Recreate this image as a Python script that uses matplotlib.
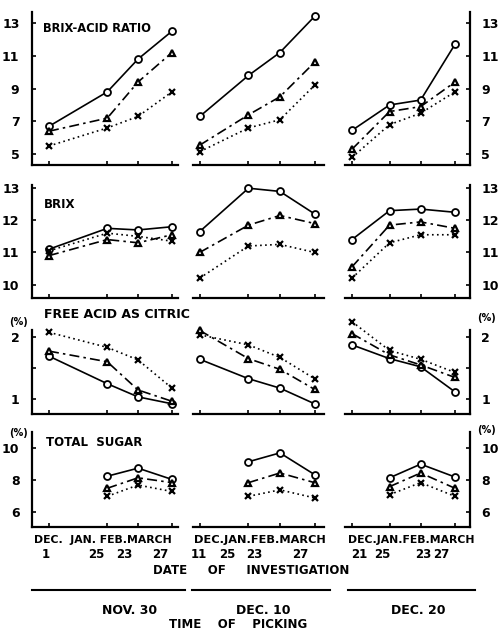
import numpy as np
import matplotlib
matplotlib.use("Agg")
import matplotlib.pyplot as plt
from matplotlib.lines import Line2D

# ---------------- data ----------------
picking_times = ["NOV. 30", "DEC. 10", "DEC. 20"]
# investigation dates, counted in days from Dec. 1
investigation_days = [[0, 55, 84, 116], [10, 55, 84, 116], [20, 55, 84, 116]]
month_labels = ["DEC.  JAN. FEB.MARCH", "DEC.JAN.FEB.MARCH", "DEC.JAN.FEB.MARCH"]
day_labels = [["1", "25", "23", "27"], ["11", "25", "23", "27"], ["21", "25", "23", "27"]]

ratio_o = [[6.7, 8.8, 10.8, 12.5], [7.3, 9.8, 11.2, 13.4], [6.45, 8.0, 8.3, 11.7]]
ratio_t = [[6.4, 7.2, 9.4, 11.2], [5.55, 7.4, 8.5, 10.6], [5.3, 7.6, 7.9, 9.4]]
ratio_x = [[5.5, 6.6, 7.3, 8.8], [5.15, 6.6, 7.1, 9.2], [4.8, 6.8, 7.5, 8.8]]

brix_o = [[11.1, 11.75, 11.7, 11.8], [11.65, 13.0, 12.9, 12.2], [11.4, 12.3, 12.35, 12.25]]
brix_t = [[10.9, 11.4, 11.3, 11.55], [11.0, 11.85, 12.15, 11.9], [10.55, 11.85, 11.95, 11.75]]
brix_x = [[11.05, 11.6, 11.5, 11.35], [10.2, 11.2, 11.25, 11.0], [10.2, 11.3, 11.55, 11.55]]

acid_o = [[1.69, 1.25, 1.04, 0.93], [1.64, 1.33, 1.18, 0.93], [1.87, 1.65, 1.52, 1.12]]
acid_t = [[1.77, 1.6, 1.15, 0.97], [2.1, 1.65, 1.48, 1.16], [2.05, 1.71, 1.55, 1.35]]
acid_x = [[2.07, 1.83, 1.63, 1.18], [2.03, 1.87, 1.67, 1.33], [2.24, 1.78, 1.64, 1.43]]

sugar_o = [[np.nan, 8.25, 8.75, 8.05], [np.nan, 9.15, 9.7, 8.35], [np.nan, 8.15, 9.0, 8.2]]
sugar_t = [[np.nan, 7.5, 8.15, 7.85], [np.nan, 7.85, 8.45, 7.85], [np.nan, 7.6, 8.45, 7.5]]
sugar_x = [[np.nan, 7.0, 7.7, 7.3], [np.nan, 7.0, 7.4, 6.9], [np.nan, 7.1, 7.85, 7.0]]

row_titles = ["BRIX-ACID RATIO", "BRIX", "FREE ACID AS CITRIC", "TOTAL  SUGAR"]
row_series = [(ratio_o, ratio_t, ratio_x), (brix_o, brix_t, brix_x),
              (acid_o, acid_t, acid_x), (sugar_o, sugar_t, sugar_x)]
row_yticks = [[5, 7, 9, 11, 13], [10, 11, 12, 13], [1, 2], [6, 8, 10]]
row_yticklabels = [["5", "7", "9", "11", "13"], ["10", "11", "12", "13"], ["1", "2"], ["6", "8", "10"]]

# ---------------- layout ----------------
W, H = 499, 636
fig = plt.figure(figsize=(W / 100, H / 100), dpi=100)
fig.patch.set_facecolor("white")

FONT = ["DejaVu Sans"]
plt.rcParams["font.family"] = ["DejaVu Sans"]


def fx(px):
    return px / W


def fy(py):
    return 1 - py / H


def box(x0, x1, y0, y1):
    return [fx(x0), fy(y1), (x1 - x0) / W, (y1 - y0) / H]


col_px = [(32, 178), (193, 324), (345, 470)]
col_xlim = [(-16, 121.7), (3.8, 124.7), (13.5, 130)]
row_px = [(12, 165), (185, 298), (330, 414), (432, 527)]
row_ylim = [(4.34, 13.67), (9.58, 13.1), (0.767, 2.107), (5.09, 11.0)]
row_minor = [[], [], [1.5], []]

styles = [dict(ls="-", marker="o", ms=5, mfc="white", mec="black", mew=1.3),
          dict(ls=(0, (6, 2.5, 1.5, 2.5)), marker="^", ms=4.8, mfc="white", mec="black", mew=1.6),
          dict(ls=(0, (1, 2)), marker="x", ms=5, mec="black", mew=1.6)]

tick_kw = dict(fontsize=9, fontweight="bold")

for r in range(4):
    for c in range(3):
        ax = fig.add_axes(box(col_px[c][0], col_px[c][1], row_px[r][0], row_px[r][1]))
        ax.set_facecolor("none")
        xs = investigation_days[c]
        for s, st in zip(row_series[r], styles):
            ax.plot(xs, s[c], color="black", lw=1.2, clip_on=False, **st)
        ax.set_xlim(*col_xlim[c])
        ax.set_ylim(*row_ylim[r])
        for side in ["top", "left", "right", "bottom"]:
            ax.spines[side].set_visible(False)
        ax.spines["bottom"].set_visible(True)
        ax.spines["bottom"].set_linewidth(1.6)
        ax.set_xticks(xs)
        ax.tick_params(axis="x", direction="in", length=3, width=1.2, labelbottom=False)
        if c == 0:
            ax.spines["left"].set_visible(True)
            ax.spines["left"].set_linewidth(1.6)
            ax.set_yticks(row_yticks[r])
            ax.set_yticklabels(row_yticklabels[r], **tick_kw)
            ax.set_yticks(row_minor[r], minor=True)
            ax.tick_params(axis="y", which="both", direction="in", length=3, width=1.2, pad=9)
        elif c == 2:
            ax.spines["right"].set_visible(True)
            ax.spines["right"].set_linewidth(1.6)
            ax.yaxis.tick_right()
            ax.set_yticks(row_yticks[r])
            ax.set_yticklabels(row_yticklabels[r], **tick_kw)
            ax.set_yticks(row_minor[r], minor=True)
            ax.tick_params(axis="y", which="both", direction="in", length=3, width=1.2, pad=8)
        else:
            ax.set_yticks([])

# panel titles
title_pos = [(43, 28), (44, 205), (44, 315), (46, 443)]
title_sizes = [8.3, 8.5, 9, 8.5]
for t, (x, y), fs in zip(row_titles, title_pos, title_sizes):
    fig.text(fx(x), fy(y), t, ha="left", va="center", fontsize=fs, fontweight="bold", family=FONT)

# percent marks
for (x, y) in [(18, 322), (487, 318), (18, 433), (487, 430)]:
    fig.text(fx(x), fy(y), "(%)", ha="center", va="center", fontsize=7, fontweight="bold", family=FONT)

# date labels under the bottom row
month_centers = [103, 260, 411]
month_sizes = [7.8, 8.2, 7.8]
for c in range(3):
    fig.text(fx(month_centers[c]), fy(540), month_labels[c], ha="center", va="center",
             fontsize=month_sizes[c], fontweight="bold", family=FONT)
day_centers = [[46, 96, 124, 160], [199, 227, 254, 300], [359, 382, 423, 441]]
for c in range(3):
    for lab, x in zip(day_labels[c], day_centers[c]):
        fig.text(fx(x), fy(555), lab, ha="center", va="center", fontsize=8.5,
                 fontweight="bold", family=FONT)

fig.text(fx(251), fy(571), "DATE     OF     INVESTIGATION", ha="center", va="center",
         fontsize=8.5, fontweight="bold", family=FONT)

for (x0, x1) in [(32, 185), (192, 330), (348, 475)]:
    fig.add_artist(Line2D([fx(x0), fx(x1)], [fy(590), fy(590)], color="black", lw=1.5,
                          transform=fig.transFigure))

pick_centers = [130, 263, 418]
for t, x in zip(picking_times, pick_centers):
    fig.text(fx(x), fy(610), t, ha="center", va="center", fontsize=9, fontweight="bold", family=FONT)

fig.text(fx(238), fy(624), "TIME    OF    PICKING", ha="center", va="center",
         fontsize=8.5, fontweight="bold", family=FONT)

fig.savefig("out.png", dpi=100, facecolor="white")
